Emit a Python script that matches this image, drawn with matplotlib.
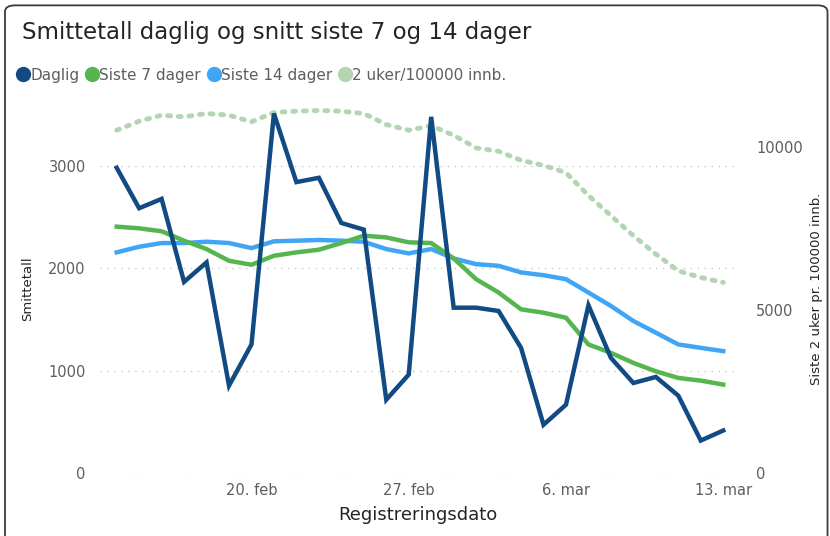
import numpy as np
import pandas as pd
import matplotlib.pyplot as plt
import matplotlib.dates as mdates
from matplotlib.patches import FancyBboxPatch
from matplotlib.lines import Line2D

# Data
datoer = pd.date_range('2021-02-14', '2021-03-13', freq='D')
daglig = [2980, 2585, 2676, 1866, 2056, 853, 1255, 3510, 2840, 2882, 2441, 2376, 716, 961,
          3477, 1614, 1614, 1582, 1222, 471, 667, 1637, 1124, 879, 938, 755, 317, 415]
siste7 = [2405, 2389, 2360, 2268, 2186, 2072, 2033, 2121, 2154, 2180, 2245, 2317, 2300, 2252,
          2245, 2095, 1892, 1762, 1598, 1565, 1516, 1255, 1173, 1075, 993, 928, 902, 863]
siste14 = [2154, 2209, 2245, 2245, 2258, 2245, 2196, 2262, 2268, 2275, 2268, 2258, 2186, 2144,
           2186, 2095, 2039, 2023, 1958, 1931, 1892, 1762, 1631, 1484, 1370, 1255, 1222, 1190]
uker2 = [10502, 10779, 10963, 10914, 11015, 10963, 10760, 11046, 11086, 11108, 11086, 11015, 10677, 10502,
         10640, 10348, 9960, 9856, 9580, 9425, 9200, 8502, 7886, 7271, 6708, 6194, 5990, 5837]

farge_daglig = '#124A84'
farge_7 = '#55B54F'
farge_14 = '#41A5F5'
farge_2uker = '#B4D5B2'
tekstfarge = '#605E5C'

plt.rcParams['font.family'] = ['DejaVu Sans']

fig = plt.figure(figsize=(8.3, 5.36), dpi=100)
ax = fig.add_axes([0.12, 0.1175, 0.766, 0.688])
ax2 = ax.twinx()

x = mdates.date2num(datoer)

ax2.plot(x, uker2, color=farge_2uker, lw=3.5, linestyle=(0, (0.6, 1.6)), dash_capstyle='round')
ax.plot(x, siste14, color=farge_14, lw=3.2, solid_joinstyle='round')
ax.plot(x, siste7, color=farge_7, lw=3.2, solid_joinstyle='round')
ax.plot(x, daglig, color=farge_daglig, lw=3.2, solid_joinstyle='miter')
ax.set_zorder(ax2.get_zorder() + 1)
ax.patch.set_visible(False)

ax.set_xlim(x[0] - 0.76, x[-1] + 0.54)
ax.set_ylim(0, 3600)
ax2.set_ylim(0, 3600 * 102 / 32.5)
ax.set_yticks([0, 1000, 2000, 3000])
ax2.set_yticks([0, 5000, 10000])

ax.xaxis.set_major_locator(mdates.DayLocator(bymonthday=[20, 27, 6, 13]))
maaned = {2: 'feb', 3: 'mar'}
ax.xaxis.set_major_formatter(plt.FuncFormatter(
    lambda v, p: '%d. %s' % (mdates.num2date(v).day, maaned[mdates.num2date(v).month])))

ax.grid(axis='y', color='#C8C8C8', linestyle=(0, (1, 4)), lw=1)
for a in (ax, ax2):
    for s in a.spines.values():
        s.set_visible(False)
    a.tick_params(length=0, labelsize=10.5, labelcolor=tekstfarge)
ax.tick_params(axis='y', pad=10)
ax2.tick_params(axis='y', pad=15)
ax.tick_params(axis='x', pad=7)

ax.set_ylabel('Smittetall', fontsize=9.5, color='#252423', labelpad=10)
ax2.set_ylabel('Siste 2 uker pr. 100000 innb.', fontsize=9.5, color='#252423', labelpad=5)
ax.set_xlabel('Registreringsdato', fontsize=13, color='#252423', labelpad=6)

fig.text(0.027, 0.94, 'Smittetall daglig og snitt siste 7 og 14 dager', fontsize=16.5,
         color='#252423', va='center')

handles = [Line2D([], [], marker='o', linestyle='', markersize=10, color=c)
           for c in (farge_daglig, farge_7, farge_14, farge_2uker)]
fig.legend(handles, ['Daglig', 'Siste 7 dager', 'Siste 14 dager', '2 uker/100000 innb.'],
           loc='center left', bbox_to_anchor=(0.005, 0.86), ncol=4, frameon=False,
           handlelength=0.7, handletextpad=0.1, columnspacing=0.5, fontsize=11,
           labelcolor=tekstfarge)

ramme = FancyBboxPatch((0.006, -0.05), 0.991, 1.04, boxstyle='round,pad=0,rounding_size=0.012',
                       transform=fig.transFigure, fill=False, edgecolor='#3A3A3A', lw=1.3)
fig.patches.append(ramme)

plt.savefig('out.png', dpi=100)
